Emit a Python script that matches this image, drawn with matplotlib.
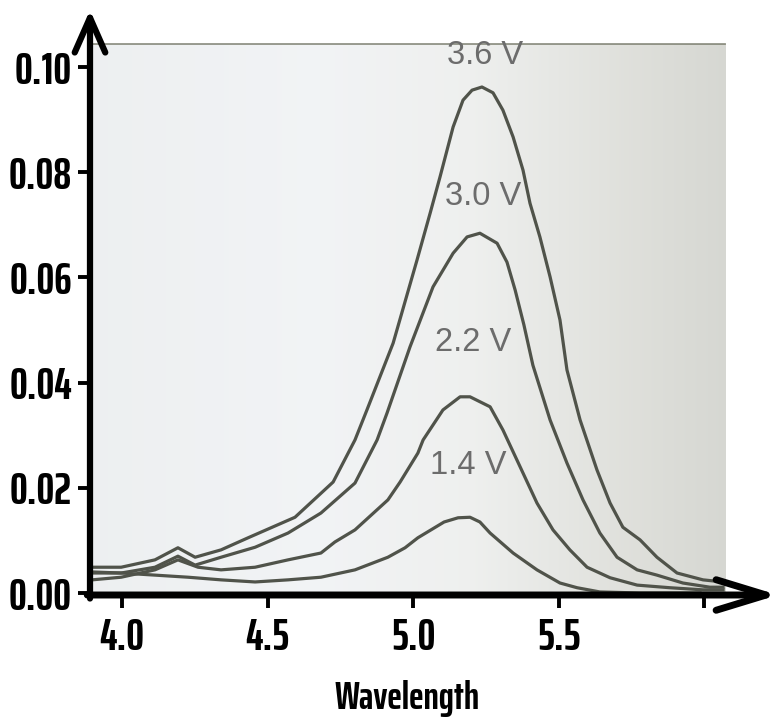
import numpy as np
import matplotlib
matplotlib.use("Agg")
import matplotlib.pyplot as plt
from matplotlib import font_manager as fm

# ---------------- data ----------------
wl_36 = [3.897, 3.997, 4.113, 4.192, 4.251, 4.340, 4.433, 4.594, 4.725, 4.800, 4.841, 4.931,
         5.013, 5.058, 5.092, 5.137, 5.171, 5.202, 5.236, 5.274, 5.308, 5.343, 5.377, 5.401,
         5.435, 5.470, 5.504, 5.528, 5.573, 5.631, 5.676, 5.720, 5.779, 5.837, 5.906, 5.995, 6.064]
ab_36 = [0.0049, 0.0049, 0.0063, 0.0086, 0.0068, 0.0082, 0.0105, 0.0144, 0.0211, 0.0291, 0.0348, 0.0475,
         0.0633, 0.0722, 0.0791, 0.0886, 0.0937, 0.0956, 0.0962, 0.0951, 0.0918, 0.0867, 0.0804, 0.0741,
         0.0677, 0.0601, 0.0519, 0.0424, 0.0329, 0.0234, 0.0171, 0.0125, 0.0101, 0.0068, 0.0038, 0.0025, 0.0021]

wl_30 = [3.897, 3.997, 4.113, 4.192, 4.251, 4.340, 4.457, 4.570, 4.683, 4.800, 4.876, 4.910,
         4.989, 5.068, 5.137, 5.185, 5.229, 5.288, 5.322, 5.350, 5.380, 5.411, 5.470, 5.528,
         5.583, 5.641, 5.700, 5.769, 5.837, 5.926, 6.019, 6.064]
ab_30 = [0.0038, 0.0038, 0.0049, 0.0070, 0.0053, 0.0068, 0.0087, 0.0114, 0.0152, 0.0209, 0.0291, 0.0342,
         0.0468, 0.0582, 0.0646, 0.0677, 0.0684, 0.0665, 0.0629, 0.0576, 0.0510, 0.0433, 0.0329, 0.0247,
         0.0177, 0.0114, 0.0068, 0.0044, 0.0034, 0.0019, 0.0011, 0.0011]

wl_22 = [3.897, 3.997, 4.113, 4.192, 4.261, 4.340, 4.457, 4.570, 4.683, 4.731, 4.800, 4.913,
         4.955, 5.016, 5.034, 5.102, 5.161, 5.195, 5.264, 5.308, 5.367, 5.425, 5.480, 5.538,
         5.597, 5.676, 5.769, 5.882, 5.995, 6.064]
ab_22 = [0.0025, 0.0030, 0.0044, 0.0063, 0.0049, 0.0044, 0.0049, 0.0063, 0.0076, 0.0097, 0.0120, 0.0177,
         0.0211, 0.0266, 0.0291, 0.0348, 0.0373, 0.0373, 0.0354, 0.0310, 0.0240, 0.0171, 0.0120, 0.0082,
         0.0049, 0.0029, 0.0015, 0.0010, 0.0006, 0.0006]

wl_14 = [3.897, 3.997, 4.113, 4.227, 4.340, 4.457, 4.570, 4.683, 4.800, 4.913, 4.972, 5.016,
         5.106, 5.154, 5.195, 5.229, 5.264, 5.343, 5.425, 5.504, 5.563, 5.641, 5.779, 5.985]
ab_14 = [0.0040, 0.0038, 0.0034, 0.0030, 0.0025, 0.0021, 0.0025, 0.0030, 0.0044, 0.0068, 0.0086, 0.0105,
         0.0135, 0.0143, 0.0144, 0.0135, 0.0114, 0.0076, 0.0044, 0.0019, 0.0010, 0.0002, 0.0000, 0.0000]

series_labels = ["3.6 V", "3.0 V", "2.2 V", "1.4 V"]
label_x = [5.247, 5.240, 5.205, 5.188]
label_y = [0.1021, 0.0753, 0.0477, 0.0243]

x_ticks = [4.0, 4.5, 5.0, 5.5, 6.0]
x_tick_labels = ["4.0", "4.5", "5.0", "5.5", ""]
y_ticks = [0.00, 0.02, 0.04, 0.06, 0.08, 0.10]
y_tick_labels = ["0.00", "0.02", "0.04", "0.06", "0.08", "0.10"]
x_title = "Wavelength"

# ---------------- fonts ----------------
def _w(f):
    if isinstance(f.weight, (int, float)):
        return int(f.weight)
    return fm.weight_dict.get(f.weight, 400)

entries = [f for f in fm.fontManager.ttflist if "CJK" not in f.name]
names = {f.name for f in entries}
narrow_bold = sorted({f.name for f in entries
                      if ("Narrow" in f.name or "Condensed" in f.name) and _w(f) >= 600})
narrow_any = sorted({f.name for f in entries if ("Narrow" in f.name or "Condensed" in f.name)})

def _pick(cands, keys):
    for key in keys:
        for n in cands:
            if key in n:
                return n
    return None

keys = ("ExtraCondensed", "Liberation Sans Narrow", "Condensed", "Narrow")
cond = _pick(narrow_bold, keys) or _pick(narrow_any, keys)
extra = bool(cond) and "ExtraCondensed" in cond
if cond and extra:
    tick_size, title_size, tick_weight = 32, 28, "bold"
elif cond:
    tick_size, title_size, tick_weight = 27, 24, "bold"
elif "Roboto" in names:
    cond = "Roboto"
    tick_size, title_size, tick_weight = 24, 22, "bold"
else:
    cond = "DejaVu Sans"
    tick_size, title_size, tick_weight = 21, 21, "bold"
reg = "Liberation Sans" if "Liberation Sans" in names else "DejaVu Sans"

# ---------------- figure ----------------
W, H = 784, 723
fig = plt.figure(figsize=(W / 100, H / 100), dpi=100)
fig.patch.set_facecolor("white")
ax = fig.add_axes([90 / W, 128 / H, 688 / W, 585 / H])
ax.set_facecolor("white")

xlim = (3.890, 6.2527)
ylim = (-0.00038, 0.11084)
photo_right = 6.0707
photo_top = 0.10437

# photo-like background gradient
stops = [0.0, 0.35, 0.6, 0.85, 1.0]
cols = np.array([[0.930, 0.940, 0.945],
                 [0.948, 0.955, 0.962],
                 [0.935, 0.940, 0.935],
                 [0.875, 0.878, 0.860],
                 [0.840, 0.845, 0.825]])
t = np.linspace(0, 1, 300)
grad = np.stack([np.interp(t, stops, cols[:, c]) for c in range(3)], axis=-1)[None, :, :]
ax.imshow(grad, extent=[xlim[0], photo_right, ylim[0], photo_top], aspect="auto",
          zorder=0, interpolation="bicubic")
ax.axhline(photo_top, xmin=0.005, xmax=(photo_right - xlim[0]) / (xlim[1] - xlim[0]),
           color="#6e7160", lw=1.3, alpha=0.75, zorder=1)

line_color = "#50534a"
for wl, ab in [(wl_36, ab_36), (wl_30, ab_30), (wl_22, ab_22), (wl_14, ab_14)]:
    ax.plot(wl, ab, color=line_color, lw=2.3, solid_joinstyle="round", zorder=2)

for lab, lx, ly in zip(series_labels, label_x, label_y):
    ax.text(lx, ly, lab, ha="center", va="center", fontsize=23.5, color="#6c6c6c",
            family=reg, zorder=3)

ax.set_xlim(*xlim)
ax.set_ylim(*ylim)
for s in ax.spines.values():
    s.set_visible(False)

ax.set_xticks(x_ticks)
ax.set_xticklabels(x_tick_labels)
ax.set_yticks(y_ticks)
ax.set_yticklabels(y_tick_labels)
ax.tick_params(axis="both", length=9, width=2.8, color="black", labelsize=tick_size, labelcolor="black")
ax.tick_params(axis="x", pad=7)
ax.tick_params(axis="y", pad=4)
for lab in ax.get_xticklabels() + ax.get_yticklabels():
    lab.set_fontfamily(cond)
    lab.set_fontweight(tick_weight)

ax.set_xlabel(x_title, fontsize=title_size, fontweight=tick_weight, family=cond)
ax.xaxis.set_label_coords(0.461, -0.146)

# arrow axes
ax.annotate("", xy=(0, 1), xycoords="axes fraction", xytext=(0, -0.006), textcoords="axes fraction",
            arrowprops=dict(arrowstyle="->,head_length=2.5,head_width=1.1", lw=4.5, color="black",
                            shrinkA=0, shrinkB=0, mutation_scale=10),
            annotation_clip=False, zorder=5)
ax.annotate("", xy=(1, 0), xycoords="axes fraction", xytext=(-0.004, 0), textcoords="axes fraction",
            arrowprops=dict(arrowstyle="->,head_length=3.6,head_width=1.1", lw=5, color="black",
                            shrinkA=0, shrinkB=0, mutation_scale=10),
            annotation_clip=False, zorder=5)

fig.savefig("out.png", dpi=100)
